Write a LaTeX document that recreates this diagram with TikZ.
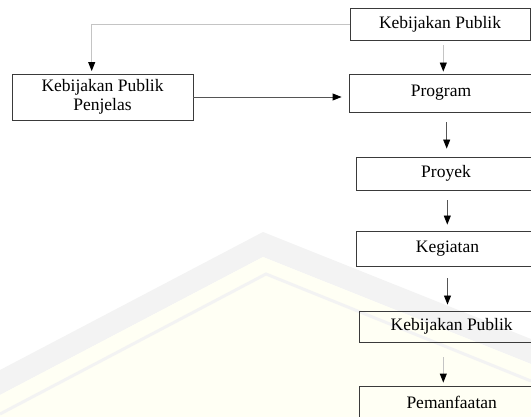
\documentclass[tikz,border=0pt]{standalone}
\usepackage{fontspec}
\setmainfont{Liberation Serif}
\usetikzlibrary{arrows.meta}
\definecolor{boxline}{HTML}{3A3A3A}
\definecolor{darkln}{HTML}{555555}
\definecolor{lightln}{HTML}{C4C4C4}
\definecolor{wmgray}{HTML}{F3F3F3}
\definecolor{wmcream}{HTML}{FFFFF4}
\tikzset{
  stepbox/.style={draw=boxline, line width=0.9pt, rectangle, inner sep=0pt,
    font=\fontsize{17.5}{20}\selectfont, text=black, align=center},
  arr/.style={line width=0.9pt, -{Triangle[width=7pt,length=9pt,color=black]}},
  darkarr/.style={arr, draw=darkln},
  lightarr/.style={arr, draw=lightln},
}
\begin{document}
\begin{tikzpicture}[x=1pt,y=-1pt]
\useasboundingbox (0,0) rectangle (531,417);
\clip (0,0) rectangle (531,417);
% faint watermark background
\fill[wmgray] (0,370) -- (263,232) -- (531,339) -- (531,364) -- (263,257) -- (0,395) -- cycle;
\fill[wmcream] (0,395) -- (263,257) -- (531,364) -- (531,417) -- (0,417) -- cycle;
\draw[wmgray, line width=3pt] (0,414) -- (266,274) -- (531,381);
% boxes
\node[stepbox, minimum width=180pt, minimum height=32pt] (top) at (440,24) {Kebijakan Publik};
\node[stepbox, minimum width=184pt, minimum height=38pt] (prog) at (441,93) {Program};
\node[stepbox, minimum width=181pt, minimum height=46pt] (left) at (102.5,97) {Kebijakan Publik\\[-1pt]Penjelas};
\node[stepbox, minimum width=180pt, minimum height=33pt] (proy) at (446,173.5) {Proyek};
\node[stepbox, minimum width=183pt, minimum height=35pt] (keg) at (447.5,248.5) {Kegiatan};
\node[stepbox, minimum width=185pt, minimum height=31pt] (keb) at (451.7,326.5) {Kebijakan Publik};
\node[stepbox, minimum width=185pt, minimum height=32pt] (pem) at (451.7,402) {Pemanfaatan};
% connectors
\draw[lightarr, shorten <=5pt, shorten >=2pt] ([xshift=3.3pt]top.south) -- ([xshift=3.3pt]top.south |- prog.north);
\draw[darkarr, shorten <=10pt, shorten >=8pt] ([xshift=5.7pt]prog.south) -- ([xshift=5.7pt]prog.south |- proy.north);
\draw[darkarr, shorten <=10pt, shorten >=6pt] ([xshift=1.3pt]proy.south) -- ([xshift=1.3pt]proy.south |- keg.north);
\draw[darkarr, shorten <=12pt, shorten >=6pt] (keg.south) -- (keg.south |- keb.north);
\draw[lightarr, shorten <=15pt, shorten >=3pt] ([xshift=-8.4pt]keb.south) -- ([xshift=-8.4pt]keb.south |- pem.north);
\draw[lightarr, shorten >=2.5pt] (top.west) -| ([xshift=-10.8pt]left.north);
\draw[darkarr, shorten >=7pt] (left.east) -- (left.east -| prog.west);
\end{tikzpicture}
\end{document}
